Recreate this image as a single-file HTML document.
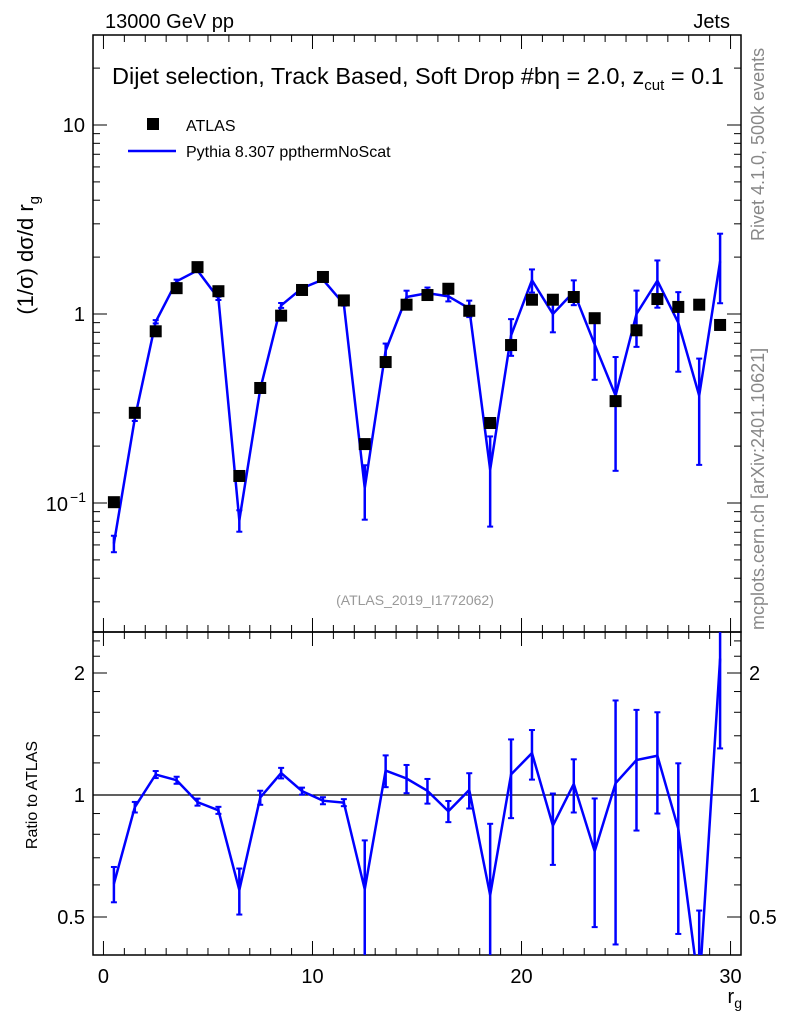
<!DOCTYPE html>
<html><head><meta charset="utf-8"><style>
html,body{margin:0;background:#fff;overflow:hidden;width:786px;height:1024px;}
svg{display:block;font-family:"Liberation Sans",sans-serif;}
</style></head><body>
<svg id="chart" width="786" height="1024" viewBox="0 0 786 1024" xmlns="http://www.w3.org/2000/svg">
<g id="g"></g>
</svg>
<script>
const bins=[0.5,1.5,2.5,3.5,4.5,5.5,6.5,7.5,8.5,9.5,10.5,11.5,12.5,13.5,14.5,15.5,16.5,17.5,18.5,19.5,20.5,21.5,22.5,23.5,24.5,25.5,26.5,27.5,28.5,29.5];
const atlasValues=[0.101,0.30,0.81,1.37,1.77,1.32,0.139,0.406,0.98,1.34,1.57,1.18,0.205,0.557,1.12,1.26,1.36,1.04,0.265,0.685,1.19,1.19,1.23,0.95,0.346,0.82,1.2,1.09,1.12,0.875];
const pythiaValues=[0.061,0.28,0.91,1.49,1.70,1.21,0.081,0.40,1.11,1.37,1.52,1.13,0.12,0.64,1.23,1.29,1.24,1.07,0.15,0.77,1.51,1.0,1.31,0.69,0.37,1.0,1.5,0.9,0.37,1.9];
const pythiaRelErr=[0.1,0.03,0.02,0.02,0.02,0.02,0.13,0.04,0.03,0.02,0.02,0.02,0.32,0.09,0.08,0.07,0.06,0.1,0.5,0.22,0.14,0.2,0.15,0.35,0.6,0.33,0.28,0.45,0.57,0.4];
const xTicks=[0,10,20,30];
const mainYTicks=[{v:10,t:"10"},{v:1,t:"1"}];
const ratioTicks=[0.5,1,2];

const NS="http://www.w3.org/2000/svg";
const g=document.getElementById('g');
const L=93,R=741,T1=35,B1=632,T2=632,B2=955;
const X=v=>L+(v+0.5)*(R-L)/31;
const Y1=v=>314-189*Math.log10(v);
const Y2=v=>795-122*Math.log2(v);
function el(tag,attrs,parent){const e=document.createElementNS(NS,tag);for(const k in attrs)e.setAttribute(k,attrs[k]);(parent||g).appendChild(e);return e;}
function txt(x,y,s,attrs,parent){const e=el('text',Object.assign({x:x,y:y},attrs),parent);e.textContent=s;return e;}

const defs=el('defs',{});
const c1=el('clipPath',{id:'c1'},defs);el('rect',{x:L,y:T1,width:R-L,height:B1-T1},c1);
const c2=el('clipPath',{id:'c2'},defs);el('rect',{x:L,y:T2,width:R-L,height:B2-T2},c2);

const f1=el('rect',{x:L,y:T1,width:R-L,height:B1-T1,fill:'none',stroke:'#000','stroke-width':1.5});

const f2=el('rect',{x:L,y:T2,width:R-L,height:B2-T2,fill:'none',stroke:'#000','stroke-width':1.5});


for(let v=0;v<=30;v++){
  const len=(v%10===0)?14:7;
  for(const [top,bot] of [[T1,B1],[T2,B2]]){
    el('line',{x1:X(v),x2:X(v),y1:bot,y2:bot-len,stroke:'#000','stroke-width':1});
    el('line',{x1:X(v),x2:X(v),y1:top,y2:top+len,stroke:'#000','stroke-width':1});
  }
}
xTicks.forEach(v=>{const t=txt(X(v),983,String(v),{'font-size':20,'text-anchor':'middle'});
});
const xt=txt(742,1003,'r',{'font-size':20,'text-anchor':'end'});

const xs=el('tspan',{'font-size':14,dy:5},xt);xs.textContent='g';

for(let d=-2;d<=1;d++){for(let m=1;m<=9;m++){const v=m*Math.pow(10,d);const y=Y1(v);if(y<T1||y>B1)continue;
  const len=m===1?14:7;
  el('line',{x1:L,x2:L+len,y1:y,y2:y,stroke:'#000'});el('line',{x1:R,x2:R-len,y1:y,y2:y,stroke:'#000'});}}
mainYTicks.forEach(o=>{const t=txt(85,Y1(o.v)+7,o.t,{'font-size':20,'text-anchor':'end'});
});
const tm=txt(68,Y1(0.1)+8,'10',{'font-size':20,'text-anchor':'end'});

txt(86,Y1(0.1)-1,'−1',{'font-size':14,'text-anchor':'end'});

[0.4,0.5,0.6,0.7,0.8,0.9,1,1.2,1.4,1.6,1.8,2,2.2,2.4].forEach(v=>{const y=Y2(v);if(y<T2||y>B2)return;
  const len=ratioTicks.includes(v)?14:7;
  el('line',{x1:L,x2:L+len,y1:y,y2:y,stroke:'#000'});el('line',{x1:R,x2:R-len,y1:y,y2:y,stroke:'#000'});});
ratioTicks.forEach(v=>{
  const a=txt(85,Y2(v)+7,String(v),{'font-size':20,'text-anchor':'end'});
  
  const b=txt(749,Y2(v)+7,String(v),{'font-size':20,'text-anchor':'start'});
  
});
const ref=el('line',{x1:L,x2:R,y1:Y2(1),y2:Y2(1),stroke:'#000','stroke-width':1.2});


const gm=el('g',{'clip-path':'url(#c1)'});

el('polyline',{points:bins.map((b,i)=>X(b)+','+Y1(pythiaValues[i])).join(' '),fill:'none',stroke:'#0000ff','stroke-width':2.5},gm);
bins.forEach((b,i)=>{const v=pythiaValues[i],e=v*pythiaRelErr[i];const lo=Math.max(v-e,1e-3),hi=v+e;
  const bar=el('g',{},gm);
  
  el('line',{x1:X(b),x2:X(b),y1:Y1(lo),y2:Y1(hi),stroke:'#0000ff','stroke-width':2.5},bar);
  el('line',{x1:X(b)-3,x2:X(b)+3,y1:Y1(lo),y2:Y1(lo),stroke:'#0000ff','stroke-width':2},bar);
  el('line',{x1:X(b)-3,x2:X(b)+3,y1:Y1(hi),y2:Y1(hi),stroke:'#0000ff','stroke-width':2},bar);});
bins.forEach((b,i)=>{const r=el('rect',{x:X(b)-6,y:Y1(atlasValues[i])-6,width:12,height:12,fill:'#000'},gm);
  });

const gr=el('g',{'clip-path':'url(#c2)'});

const ratios=bins.map((b,i)=>pythiaValues[i]/atlasValues[i]);
el('polyline',{points:bins.map((b,i)=>X(b)+','+Y2(ratios[i])).join(' '),fill:'none',stroke:'#0000ff','stroke-width':2.5},gr);
bins.forEach((b,i)=>{const v=ratios[i],e=v*pythiaRelErr[i];const lo=Math.max(v-e,0.05),hi=v+e;
  const bar=el('g',{},gr);
  
  el('line',{x1:X(b),x2:X(b),y1:Y2(lo),y2:Y2(hi),stroke:'#0000ff','stroke-width':2.5},bar);
  el('line',{x1:X(b)-3,x2:X(b)+3,y1:Y2(lo),y2:Y2(lo),stroke:'#0000ff','stroke-width':2},bar);
  el('line',{x1:X(b)-3,x2:X(b)+3,y1:Y2(hi),y2:Y2(hi),stroke:'#0000ff','stroke-width':2},bar);});

let t;
t=txt(105,28,'13000 GeV pp',{'font-size':20});
t=txt(730,28,'Jets',{'font-size':20,'text-anchor':'end'});
t=txt(112,84,'Dijet selection, Track Based, Soft Drop #b\u03b7 = 2.0, z',{'font-size':23.5});

const ts=el('tspan',{'font-size':15,dy:6},t);ts.textContent='cut';
const ts2=el('tspan',{'font-size':23.5,dy:-6},t);ts2.textContent=' = 0.1';
const lg=el('g',{});
el('rect',{x:147,y:118,width:12,height:12,fill:'#000'},lg);
txt(186,131,'ATLAS',{'font-size':16},lg);
el('line',{x1:128,x2:176,y1:151,y2:151,stroke:'#0000ff','stroke-width':2.5},lg);
txt(186,157,'Pythia 8.307 ppthermNoScat',{'font-size':16},lg);
t=txt(0,0,'(1/\u03c3) d\u03c3/d r',{'font-size':22,'text-anchor':'end',transform:'translate(33,196) rotate(-90)'});

const ys=el('tspan',{'font-size':15,dy:6},t);ys.textContent='g';
t=txt(0,0,'Ratio to ATLAS',{'font-size':16,'text-anchor':'middle',transform:'translate(37,795) rotate(-90)'});

t=txt(0,0,'Rivet 4.1.0,  500k events',{'font-size':18,fill:'#888','text-anchor':'start',transform:'translate(764,241) rotate(-90)'});

t=txt(0,0,'mcplots.cern.ch [arXiv:2401.10621]',{'font-size':18,fill:'#888','text-anchor':'start',transform:'translate(764,630) rotate(-90)'});

t=txt(415,605,'(ATLAS_2019_I1772062)',{'font-size':14,fill:'#999','text-anchor':'middle'});

</script>
</body></html>
